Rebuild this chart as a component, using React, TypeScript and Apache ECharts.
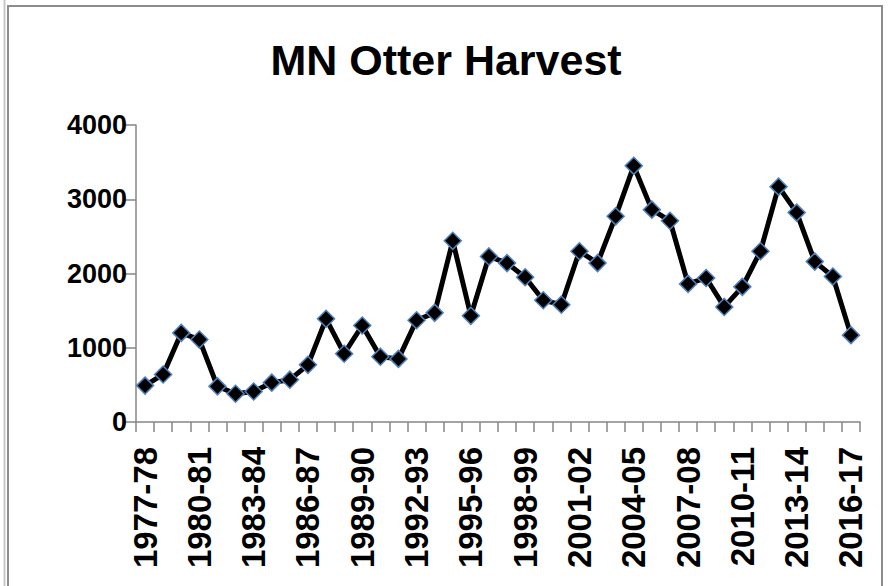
import React, { useEffect, useRef } from "react";
import * as echarts from "echarts";

const seasons = [
  "1977-78", "1978-79", "1979-80", "1980-81", "1981-82", "1982-83", "1983-84", "1984-85",
  "1985-86", "1986-87", "1987-88", "1988-89", "1989-90", "1990-91", "1991-92", "1992-93",
  "1993-94", "1994-95", "1995-96", "1996-97", "1997-98", "1998-99", "1999-00", "2000-01",
  "2001-02", "2002-03", "2003-04", "2004-05", "2005-06", "2006-07", "2007-08", "2008-09",
  "2009-10", "2010-11", "2011-12", "2012-13", "2013-14", "2014-15", "2015-16", "2016-17",
];

const harvest = [
  490, 640, 1200, 1110, 480, 380, 410, 530,
  570, 770, 1390, 920, 1300, 880, 850, 1370,
  1470, 2440, 1430, 2230, 2140, 1950, 1640, 1580,
  2300, 2140, 2770, 3450, 2860, 2710, 1860, 1940,
  1550, 1820, 2300, 3170, 2820, 2160, 1960, 1170,
];

const yMin = 0;
const yMax = 4000;
const yStep = 1000;

export default function App() {
  const ref = useRef<HTMLDivElement>(null);

  useEffect(() => {
    if (!ref.current) return;
    const chart = echarts.init(ref.current, undefined, { renderer: "svg" });
    const axisColor = "#868686";
    chart.setOption({
      animation: false,
      backgroundColor: "#ffffff",
      title: {
        text: "MN Otter Harvest",
        left: "center",
        top: 33,
        textStyle: {
          fontFamily: "Liberation Sans, Arial, sans-serif",
          fontWeight: "bold",
          fontSize: 43,
          color: "#000000",
        },
      },
      graphic: [
        {
          type: "line",
          shape: { x1: 4.5, y1: 0, x2: 4.5, y2: 586 },
          style: { stroke: "#c8c8c8", lineWidth: 2 },
          silent: true,
        },
        {
          type: "rect",
          shape: { x: 8, y: 6, width: 874, height: 620 },
          style: { fill: "none", stroke: "#8c8c8c", lineWidth: 2 },
          silent: true,
        },
      ],
      grid: { left: 136, right: 32, top: 125, bottom: 164, containLabel: false },
      xAxis: {
        type: "category",
        data: seasons,
        boundaryGap: true,
        axisLine: { show: true, lineStyle: { color: axisColor, width: 1.5 } },
        axisTick: {
          show: true,
          interval: 0,
          inside: false,
          length: 10,
          lineStyle: { color: axisColor, width: 1.5 },
        },
        axisLabel: {
          interval: 2,
          rotate: 90,
          margin: 25,
          fontFamily: "Liberation Sans, Arial, sans-serif",
          fontWeight: "bold",
          fontSize: 33,
          color: "#000000",
        },
        splitLine: { show: false },
      },
      yAxis: {
        type: "value",
        min: yMin,
        max: yMax,
        interval: yStep,
        axisLine: { show: true, lineStyle: { color: axisColor, width: 1.5 } },
        axisTick: {
          show: true,
          inside: false,
          length: 11,
          lineStyle: { color: axisColor, width: 1.5 },
        },
        axisLabel: {
          margin: 9,
          formatter: (v: number) => String(v),
          fontFamily: "Liberation Sans, Arial, sans-serif",
          fontWeight: "bold",
          fontSize: 27,
          color: "#000000",
        },
        splitLine: { show: false },
      },
      series: [
        {
          type: "line",
          data: harvest,
          symbol: "diamond",
          symbolSize: 17,
          showAllSymbol: true,
          lineStyle: { color: "#000000", width: 5 },
          itemStyle: { color: "#000000", borderColor: "#4f81bd", borderWidth: 1.5 },
        },
      ],
    });
    return () => chart.dispose();
  }, []);

  return (
    <div
      ref={ref}
      style={{ position: "absolute", left: 0, top: 0, width: 892, height: 586 }}
    />
  );
}
